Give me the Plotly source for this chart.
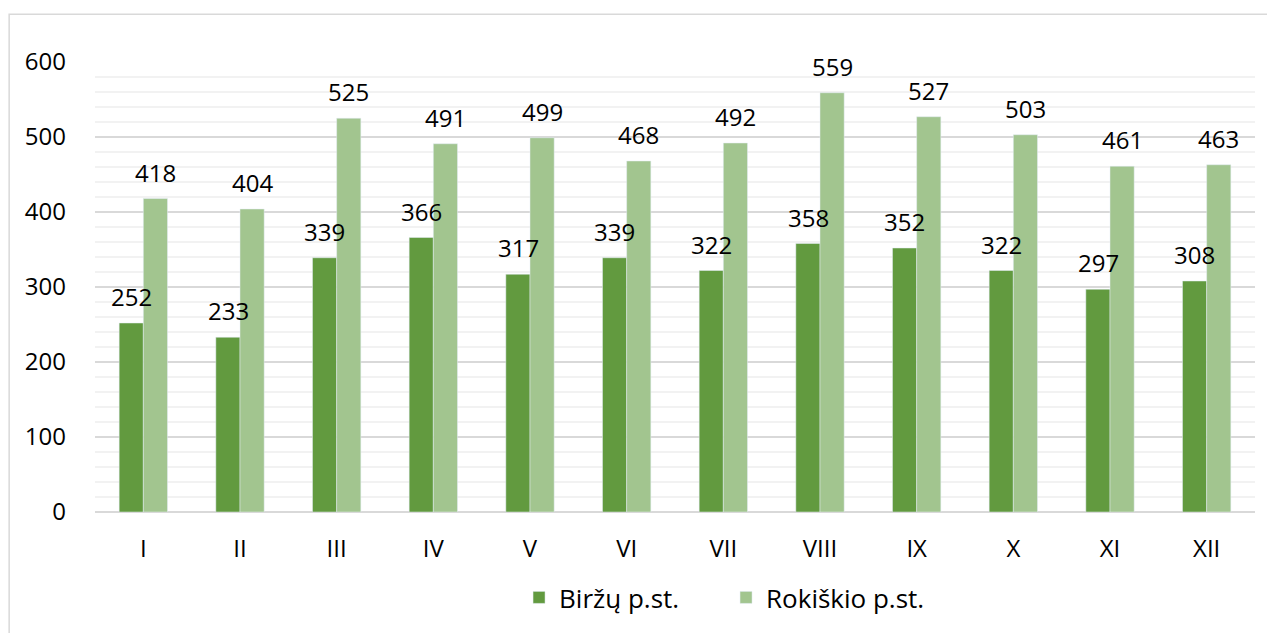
import plotly.graph_objects as go

months = ["I", "II", "III", "IV", "V", "VI", "VII", "VIII", "IX", "X", "XI", "XII"]
birzu = [252, 233, 339, 366, 317, 339, 322, 358, 352, 322, 297, 308]
rokiskio = [418, 404, 525, 491, 499, 468, 492, 559, 527, 503, 461, 463]

FONT = "Open Sans"
FS = 24

fig = go.Figure()
fig.add_trace(go.Bar(x=months, y=birzu, name="Biržų p.st.", marker_color="#629A3F"))
fig.add_trace(go.Bar(x=months, y=rokiskio, name="Rokiškio p.st.", marker_color="#A2C58F"))

annotations = []
for m, v in zip(months, birzu):
    annotations.append(dict(x=m, y=v, xref="x", yref="y", text=str(v), showarrow=False,
                            xshift=-12, yanchor="bottom", yshift=8,
                            font=dict(size=FS, color="#000000", family=FONT)))
for m, v in zip(months, rokiskio):
    annotations.append(dict(x=m, y=v, xref="x", yref="y", text=str(v), showarrow=False,
                            xshift=12, yanchor="bottom", yshift=8,
                            font=dict(size=FS, color="#000000", family=FONT)))

fig.update_layout(
    width=1267, height=625,
    margin=dict(l=87, r=20, t=54, b=119),
    paper_bgcolor="white", plot_bgcolor="white",
    font=dict(family=FONT, size=FS, color="#000000"),
    barmode="group", bargap=0.5, bargroupgap=0,
    showlegend=True,
    legend=dict(orientation="h", x=0.544, xanchor="center", y=-0.19, yanchor="middle",
                font=dict(size=26), itemwidth=30, traceorder="normal",
                entrywidth=162, entrywidthmode="pixels"),
    xaxis=dict(showgrid=False, ticks="", showline=False, tickfont=dict(size=FS),
               ticklabelstandoff=20),
    yaxis=dict(range=[0, 600], dtick=100, showgrid=True, gridcolor="#D9D9D9", gridwidth=2,
               minor=dict(dtick=20, showgrid=True, gridcolor="#F2F2F2", gridwidth=2),
               zeroline=True, zerolinecolor="#D9D9D9", zerolinewidth=2,
               ticks="", tickfont=dict(size=FS), ticklabelstandoff=28),
    annotations=annotations,
    shapes=[dict(type="rect", xref="paper", yref="paper", x0=-0.074, x1=1.1, y0=-0.5, y1=1.106,
                 line=dict(color="#D9D9D9", width=1.5), layer="below")],
)

fig.write_html("out.html")
